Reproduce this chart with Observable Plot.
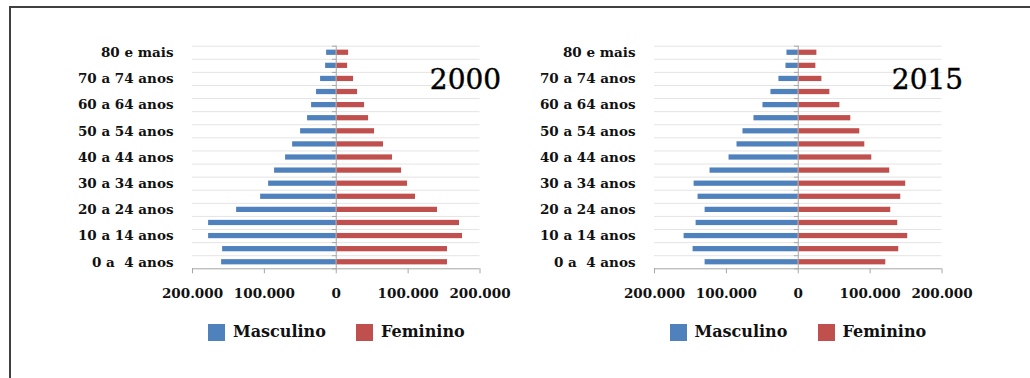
<!DOCTYPE html>
<html>
<head>
<meta charset="utf-8">
<script src="https://cdn.jsdelivr.net/npm/d3@7"></script>
<script src="https://cdn.jsdelivr.net/npm/@observablehq/plot@0.6"></script>
<style>
  html, body { margin: 0; padding: 0; background: #fff; }
  #root { position: relative; width: 1030px; height: 378px; overflow: hidden; font-family: "DejaVu Serif", serif; }
  #frame { position: absolute; left: 9px; top: 6px; width: 1040px; height: 400px; border-top: 2px solid #404040; border-left: 2px solid #404040; }
  .panel { position: absolute; top: 0; }
  .panel svg { overflow: visible; }
  .panel svg text { white-space: pre; }
  .legend { position: absolute; top: 322px; font-weight: bold; font-size: 16px; color: #111; white-space: nowrap; }
  .legend span.sw { position: absolute; top: 2px; width: 17px; height: 17px; }
  .legend span.lb { position: absolute; top: 0px; }
</style>
</head>
<body>
<div id="root"><div id="frame"></div></div>
<script>
// Age groups, from youngest (bottom) to oldest (top)
const ageGroups = ["0 a  4 anos", "5 a  9 anos", "10 a 14 anos", "15 a 19 anos", "20 a 24 anos",
  "25 a 29 anos", "30 a 34 anos", "35 a 39 anos", "40 a 44 anos", "45 a 49 anos", "50 a 54 anos",
  "55 a 59 anos", "60 a 64 anos", "65 a 69 anos", "70 a 74 anos", "75 a 79 anos", "80 e mais"];
const years = ["2000", "2015"];
const male2000   = [159500, 158100, 177600, 177600, 138600, 105200, 94100, 85800, 70500, 60700, 49600, 39900, 34300, 27400, 21800, 14800, 13400];
const female2000 = [154800, 154800, 175700, 171500, 140900, 110300, 99200, 90900, 78300, 65800, 53300, 45000, 39400, 29700, 24100, 15800, 17200];
const male2015   = [129600, 146300, 158800, 142100, 129600, 139400, 144900, 122700, 96300, 85200, 76900, 61600, 49100, 38000, 26900, 17100, 15700];
const female2015 = [121800, 139800, 152300, 138400, 128700, 142600, 149500, 127300, 102300, 92600, 85600, 73100, 57900, 44000, 32900, 24500, 25900];
const seriesNames = ["Masculino", "Feminino"];
const seriesColors = ["#4F81BD", "#C0504D"];
const xTicks = [-200000, -100000, 0, 100000, 200000];

const fmt = v => Math.abs(v) === 0 ? "0" : d3.format(",")(Math.abs(v)).replace(/,/g, ".");

function pyramid(year, male, female) {
  const idx = ageGroups.map((_, i) => i);
  const rows = idx.map(i => ({i, m: -male[i], f: female[i]}));
  const bounds = d3.range(-0.5, ageGroups.length, 1); // -0.5 .. 16.5
  return Plot.plot({
    width: 500,
    height: 310,
    marginLeft: 192,
    marginRight: 20.5,
    marginTop: 45.7,
    marginBottom: 41.7,
    style: {fontFamily: "DejaVu Serif", fontSize: "13.5px", color: "#111", background: "transparent", overflow: "visible"},
    x: {domain: [-200000, 200000], axis: null},
    y: {domain: [-0.5, ageGroups.length - 0.5], axis: null},
    marks: [
      Plot.ruleY(bounds.slice(1), {x1: -200000, x2: 200000, stroke: "#e4e4e4", strokeWidth: 1}),
      Plot.rectX(rows, {x1: 0, x2: "m", y1: d => d.i - 0.2, y2: d => d.i + 0.2, fill: seriesColors[0]}),
      Plot.rectX(rows, {x1: 0, x2: "f", y1: d => d.i - 0.2, y2: d => d.i + 0.2, fill: seriesColors[1]}),
      Plot.ruleX([0], {y1: -0.5, y2: ageGroups.length - 0.5, stroke: "#a6a6a6", strokeWidth: 1}),
      Plot.link(bounds, {x1: -6000, x2: 0, y1: d => d, y2: d => d, stroke: "#a6a6a6", strokeWidth: 1}),
      Plot.ruleY([-0.5], {x1: -200000, x2: 200000, stroke: "#a6a6a6", strokeWidth: 1}),
      Plot.axisX({ticks: xTicks, tickFormat: fmt, tickSize: 5, tickPadding: 15, stroke: "#a6a6a6",
                  fontWeight: "bold", fontSize: 13.5, fill: "#111"}),
      Plot.axisY({ticks: idx.filter(i => i % 2 === 0), tickFormat: i => ageGroups[i], tickSize: 0, tickPadding: 19,
                  fontWeight: "bold", fontSize: 13.5, fill: "#111"}),
      Plot.text([year], {x: 179800, y: 13.95, text: d => d, fontSize: 28, fill: "#000", fontFamily: "DejaVu Serif", textAnchor: "middle", stroke: "#000", strokeWidth: 0.4})
    ]
  });
}

const root = document.getElementById("root");
const offsets = [0, 461.5];
const data = [[male2000, female2000], [male2015, female2015]];
years.forEach((yr, k) => {
  const wrap = document.createElement("div");
  wrap.className = "panel";
  wrap.style.left = offsets[k] + "px";
  wrap.appendChild(pyramid(yr, data[k][0], data[k][1]));
  root.appendChild(wrap);

  const leg = document.createElement("div");
  leg.className = "legend";
  leg.style.left = (208 + offsets[k]) + "px";
  const swX = [0, 148], lbX = [25, 173];
  seriesNames.forEach((name, j) => {
    const sw = document.createElement("span");
    sw.className = "sw";
    sw.style.left = swX[j] + "px";
    sw.style.background = seriesColors[j];
    const lb = document.createElement("span");
    lb.className = "lb";
    lb.style.left = lbX[j] + "px";
    lb.textContent = name;
    leg.appendChild(sw);
    leg.appendChild(lb);
  });
  root.appendChild(leg);
});
</script>
</body>
</html>
